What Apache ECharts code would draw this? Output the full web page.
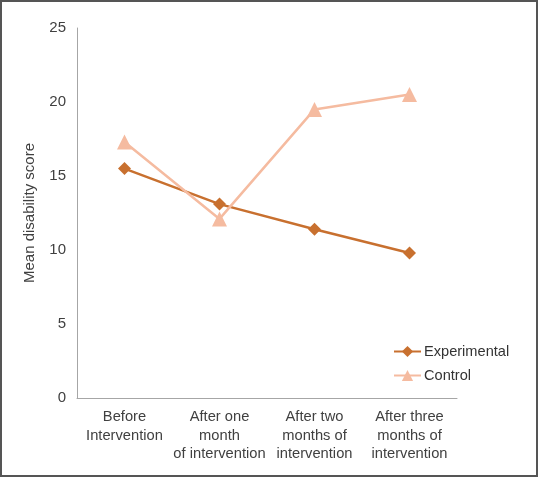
<!DOCTYPE html>
<html>
<head>
<meta charset="utf-8">
<script src="https://cdn.jsdelivr.net/npm/echarts@6/dist/echarts.min.js"></script>
<style>
html,body{margin:0;padding:0;background:#fff;}
#wrap{position:relative;width:538px;height:477px;}
#chart{width:538px;height:477px;}
#frame{position:absolute;left:0;top:0;width:538px;height:477px;box-sizing:border-box;border:2px solid #555;pointer-events:none;}
</style>
</head>
<body>
<div id="wrap"><div id="chart"></div><div id="frame"></div></div>
<script>
var categories = ["Before\nIntervention", "After one\nmonth\nof intervention", "After two\nmonths of\nintervention", "After three\nmonths of\nintervention"];
var experimental = [15.5, 13.1, 11.4, 9.8];
var control = [17.3, 12.1, 19.5, 20.5];
var yTicks = [0, 5, 10, 15, 20, 25];

var font = "'Liberation Sans', Arial, sans-serif";
var chart = echarts.init(document.getElementById('chart'), null, {renderer: 'canvas'});
chart.setOption({
  animation: false,
  backgroundColor: '#fff',
  grid: {left: 77, right: 81, top: 28, bottom: 79, containLabel: false},
  legend: {
    orient: 'vertical', left: 388, top: 339,
    itemWidth: 27, itemHeight: 14, itemGap: 9,
    textStyle: {fontFamily: font, fontSize: 14.6, color: '#333', padding: [0,0,0,-2]},
    data: ['Experimental', 'Control']
  },
  xAxis: {
    type: 'category', data: categories, boundaryGap: true,
    axisLine: {lineStyle: {color: '#a6a6a6', width: 1}},
    axisTick: {show: false},
    axisLabel: {interval: 0, margin: 10, fontFamily: font, fontSize: 14.7, lineHeight: 18.5, color: '#404040'}
  },
  yAxis: {
    type: 'value', min: yTicks[0], max: yTicks[yTicks.length - 1], interval: 5,
    name: 'Mean disability score', nameLocation: 'middle', nameGap: 40,
    nameTextStyle: {fontFamily: font, fontSize: 15, color: '#404040'},
    axisLine: {show: true, lineStyle: {color: '#a6a6a6', width: 1}},
    axisTick: {show: false},
    splitLine: {show: false},
    axisLabel: {margin: 11, fontFamily: font, fontSize: 15, color: '#404040'}
  },
  series: [
    {
      name: 'Experimental', type: 'line', data: experimental,
      symbol: 'diamond', symbolSize: 13,
      lineStyle: {color: '#C8702F', width: 2.5},
      itemStyle: {color: '#C8702F'}
    },
    {
      name: 'Control', type: 'line', data: control,
      symbol: 'triangle', symbolSize: 15,
      lineStyle: {color: '#F5BBA0', width: 2.5},
      itemStyle: {color: '#F5BBA0'}
    }
  ]
});
</script>
</body>
</html>
